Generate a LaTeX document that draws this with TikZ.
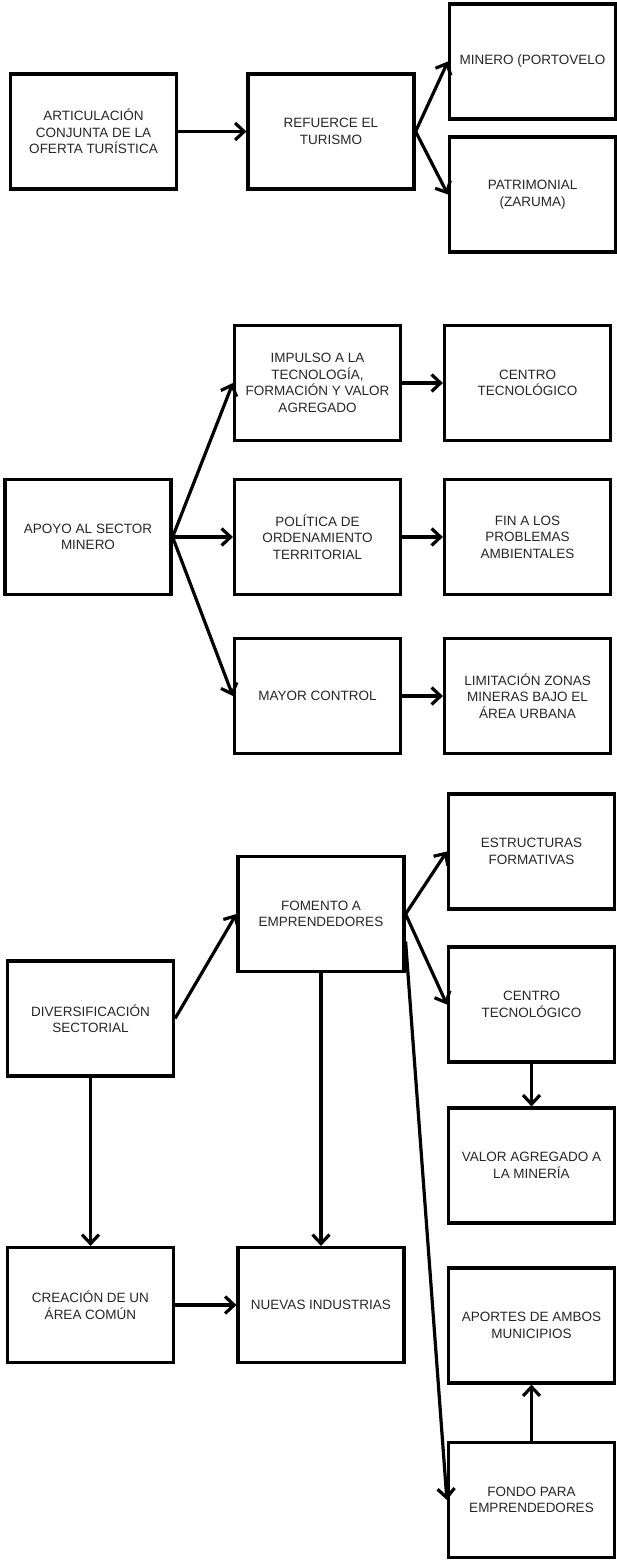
\documentclass[tikz,border=0pt]{standalone}
\usepackage{fontspec}
\setmainfont{Liberation Sans}
\usetikzlibrary{arrows.meta}
\begin{document}
\begin{tikzpicture}[x=1pt, y=-1pt,
		box/.style = {draw, line width=3.2pt, minimum width=166pt, minimum height=115pt, align=center, inner sep=1pt,
			font=\fontsize{13.5}{16.5}\selectfont, text=black!85},
		link/.style = {line width=3.2pt, -{Straight Barb[length=9pt, width=17pt]}}]
		
		\useasboundingbox (0,0) rectangle (617,1562);
		
		\node[box] (art) at (93.5,131.5) {ARTICULACIÓN\\CONJUNTA DE LA\\OFERTA TURÍSTICA};
		\node[box] (ref) at (331,131.5) {REFUERCE EL\\TURISMO};
		\node[box] (min) at (532.5,61.5) {MINERO (PORTOVELO};
		\node[box] (pat) at (532.5,194.5) {PATRIMONIAL\\(ZARUMA)};
		
		\node[box] (apo) at (88,537) {APOYO AL SECTOR\\MINERO};
		\node[box] (imp) at (317.5,383) {IMPULSO A LA\\TECNOLOGÍA,\\FORMACIÓN Y VALOR\\AGREGADO};
		\node[box] (pol) at (317.5,537) {POLÍTICA DE\\ORDENAMIENTO\\TERRITORIAL};
		\node[box] (may) at (317.5,696) {MAYOR CONTROL};
		\node[box] (cen) at (527.5,383) {CENTRO\\TECNOLÓGICO};
		\node[box] (fin) at (527.5,537) {FIN A LOS\\PROBLEMAS\\AMBIENTALES};
		\node[box] (lim) at (527.5,696) {LIMITACIÓN ZONAS\\MINERAS BAJO EL\\ÁREA URBANA};
		
		\node[box] (div) at (90.5,1018.5) {DIVERSIFICACIÓN\\SECTORIAL};
		\node[box] (fom) at (321,914) {FOMENTO A\\EMPRENDEDORES};
		\node[box] (est) at (531.5,851.5) {ESTRUCTURAS\\FORMATIVAS};
		\node[box] (tec) at (531.5,1004.5) {CENTRO\\TECNOLÓGICO};
		\node[box] (val) at (531.5,1165.5) {VALOR AGREGADO A\\LA MINERÍA};
		\node[box] (cre) at (90.5,1305) {CREACIÓN DE UN\\ÁREA COMÚN};
		\node[box] (nue) at (321,1305) {NUEVAS INDUSTRIAS};
		\node[box] (apr) at (531.5,1325.5) {APORTES DE AMBOS\\MUNICIPIOS};
		\node[box] (fon) at (531.5,1500) {FONDO PARA\\EMPRENDEDORES};
		
		\draw[link] (art.east) -- (ref.west);
		\draw[link] (ref.east) -- (min.west);
		\draw[link] (ref.east) -- (pat.west);
		
		\draw[link] (apo.east) -- (imp.west);
		\draw[link] (apo.east) -- (pol.west);
		\draw[link] (apo.east) -- (may.west);
		\draw[link] (imp.east) -- (cen.west);
		\draw[link] (pol.east) -- (fin.west);
		\draw[link] (may.east) -- (lim.west);
		
		\draw[link] (div.east) -- (fom.west);
		\draw[link] (div.south) -- (cre.north);
		\draw[link] (fom.east) -- (est.west);
		\draw[link] (fom.east) -- (tec.west);
		\draw[link] (fom.-18) -- (fon.west);
		\draw[link] (fom.south) -- (nue.north);
		\draw[link] (tec.south) -- (val.north);
		\draw[link] (cre.east) -- (nue.west);
		\draw[link] (fon.north) -- (apr.south);
		\end{tikzpicture}
\end{document}
